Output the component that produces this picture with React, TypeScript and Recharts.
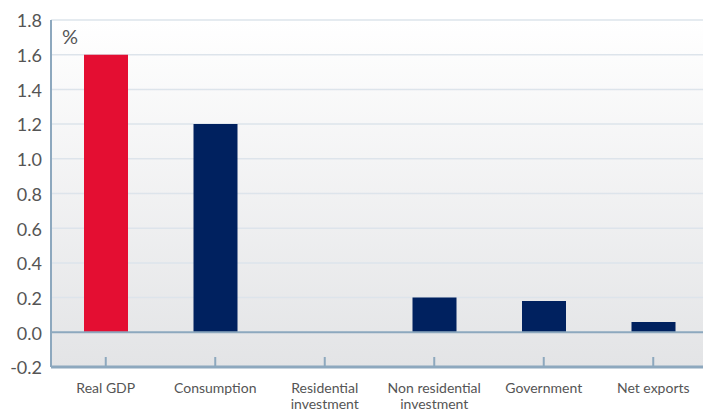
import React from 'react';
import { BarChart, Bar, XAxis, YAxis, CartesianGrid, ReferenceLine, Cell } from 'recharts';

const categories = ['Real GDP', 'Consumption', 'Residential\ninvestment', 'Non residential\ninvestment', 'Government', 'Net exports'];
const values = [1.6, 1.2, 0, 0.2, 0.18, 0.06];
const barColors = ['#E40E32', '#00215F', '#00215F', '#00215F', '#00215F', '#00215F'];
const yTicks = [-0.2, 0, 0.2, 0.4, 0.6, 0.8, 1.0, 1.2, 1.4, 1.6, 1.8];
const unitLabel = '%';

const data = categories.map((c, i) => ({ name: c, value: values[i] }));

const AXIS = '#8DA8BE';
const FONT = 'Lato, "Open Sans", sans-serif';

const XTick = (props: any) => {
  const { x, y, payload } = props;
  const lines = String(payload.value).split('\n');
  return (
    <g>
      <line x1={x} x2={x} y1={y - 10} y2={y} stroke={AXIS} strokeWidth={2} />
      {lines.map((l, i) => (
        <text key={i} x={x} y={y + 26 + i * 16} textAnchor="middle" fill="#555" fontSize={14} fontFamily={FONT}>
          {l}
        </text>
      ))}
    </g>
  );
};

export default function App() {
  return (
    <div style={{ position: 'fixed', left: 0, top: 0, width: 703, height: 412, background: '#fff', overflow: 'hidden' }}>
      <style>{'html,body{margin:0;padding:0;overflow:hidden;}'}</style>
      <BarChart width={708} height={412} data={data} margin={{ top: 20, right: 0, bottom: 0, left: 0 }} barCategoryGap={0}>
        <defs>
          <linearGradient id="bg" x1="0" y1="0" x2="0" y2="1">
            <stop offset="0%" stopColor="#ffffff" />
            <stop offset="100%" stopColor="#e3e4e6" />
          </linearGradient>
        </defs>
        <CartesianGrid vertical={false} stroke="#dde4eb" strokeWidth={1.5} fill="url(#bg)" />
        <YAxis
          width={51}
          domain={[-0.2, 1.8]}
          ticks={yTicks}
          tickFormatter={(v: number) => v.toFixed(1)}
          tickLine={false}
          tickSize={0}
          tickMargin={9}
          axisLine={{ stroke: AXIS, strokeWidth: 2 }}
          tick={{ fill: '#555', fontSize: 18, fontFamily: FONT, dy: 1 }}
          interval={0}
        />
        <XAxis
          dataKey="name"
          height={45}
          tickLine={false}
          tickSize={0}
          tickMargin={0}
          axisLine={{ stroke: AXIS, strokeWidth: 3 }}
          tick={<XTick />}
          interval={0}
        />
        <ReferenceLine y={0} stroke={AXIS} strokeWidth={2} />
        <Bar dataKey="value" barSize={44} isAnimationActive={false}>
          {data.map((d, i) => (
            <Cell key={i} fill={barColors[i]} />
          ))}
        </Bar>
      </BarChart>
      <div style={{ position: 'absolute', left: 62, top: 24, fontSize: 20, color: '#555', fontFamily: FONT }}>{unitLabel}</div>
    </div>
  );
}
